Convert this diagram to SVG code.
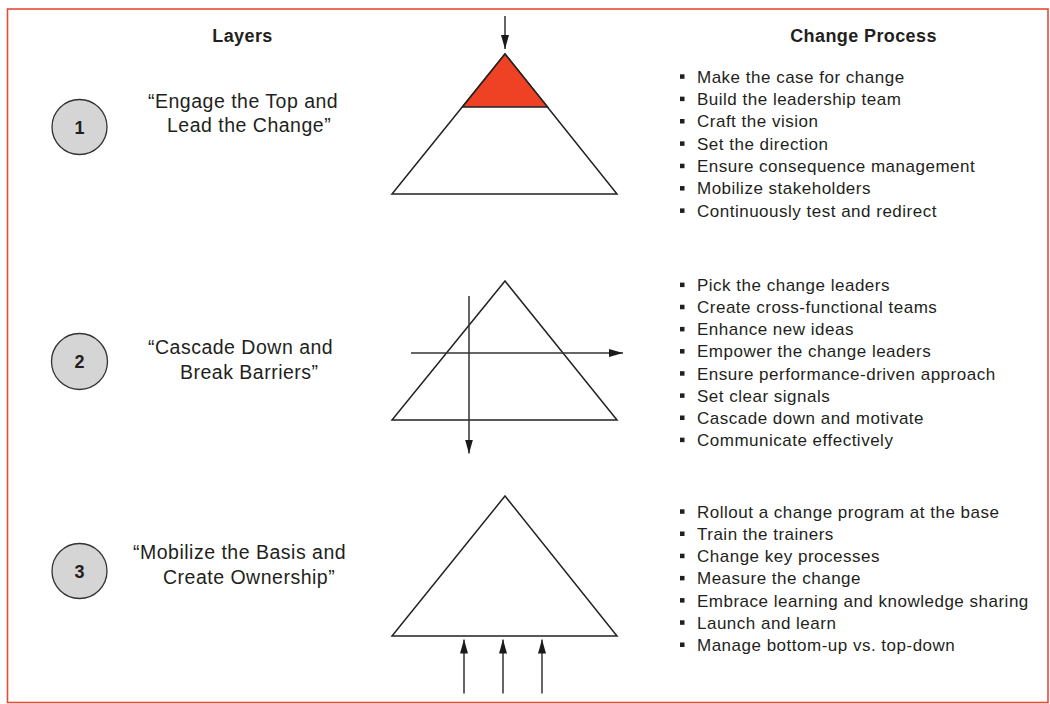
<svg xmlns="http://www.w3.org/2000/svg" width="1050" height="704" viewBox="0 0 1050 704">
<defs>
<marker id="ah" viewBox="0 0 14 8" refX="14" refY="4" markerWidth="14" markerHeight="8" markerUnits="userSpaceOnUse" orient="auto">
<path d="M0,0 L14,4 L0,8 Z" fill="#1a1a1a"/>
</marker>
<style>
.frame{fill:#ffffff;stroke:#ea4a35;stroke-width:1.6}
.head{font-family:"Liberation Sans",Arial,sans-serif;font-weight:bold;font-size:18px;fill:#231f20;text-anchor:middle;letter-spacing:0.4px}
.lbl{font-family:"Liberation Sans",Arial,sans-serif;font-size:19.5px;fill:#231f20;letter-spacing:0.5px}
.item{font-family:"Liberation Sans",Arial,sans-serif;font-size:17px;fill:#231f20;letter-spacing:0.5px}
.num{font-family:"Liberation Sans",Arial,sans-serif;font-weight:bold;font-size:18px;fill:#231f20;text-anchor:middle}
.circ{fill:#d5d5d5;stroke:#333;stroke-width:1.3}
.tri{fill:#ffffff;stroke:#222;stroke-width:1.5;stroke-linejoin:miter}
.bul{fill:#231f20}
.arr{stroke:#333;stroke-width:1.5;fill:none;marker-end:url(#ah)}
</style>
</defs>
<rect class="frame" x="7.5" y="9" width="1040.5" height="693.5"/>

<text class="head" x="242.5" y="42">Layers</text>
<text class="head" x="863.5" y="42">Change Process</text>

<g id="layer1">
<circle class="circ" cx="79.5" cy="127" r="27.5"/>
<text class="num" x="79.5" y="133.5">1</text>
<text class="lbl" x="148" y="107.5">“Engage the Top and</text>
<text class="lbl" x="167" y="132">Lead the Change”</text>
</g>

<g id="pyramid1">
<polygon class="tri" points="505,54 617,194 392,194"/>
<polygon points="505,54 547.6,107 462.4,107" fill="#ef4124" stroke="#222" stroke-width="1.5"/>
</g>

<g id="process1">
<g class="bul">
<rect x="680" y="74.3" width="4.5" height="4.5"/>
<rect x="680" y="96.65" width="4.5" height="4.5"/>
<rect x="680" y="119" width="4.5" height="4.5"/>
<rect x="680" y="141.35" width="4.5" height="4.5"/>
<rect x="680" y="163.7" width="4.5" height="4.5"/>
<rect x="680" y="186.05" width="4.5" height="4.5"/>
<rect x="680" y="208.4" width="4.5" height="4.5"/>
</g>
<text class="item" x="697" y="82.7">Make the case for change</text>
<text class="item" x="697" y="105.05">Build the leadership team</text>
<text class="item" x="697" y="127.4">Craft the vision</text>
<text class="item" x="697" y="149.75">Set the direction</text>
<text class="item" x="697" y="172.1">Ensure consequence management</text>
<text class="item" x="697" y="194.45">Mobilize stakeholders</text>
<text class="item" x="697" y="216.8">Continuously test and redirect</text>
</g>

<g id="layer2">
<circle class="circ" cx="79.5" cy="361.5" r="28"/>
<text class="num" x="79.5" y="368">2</text>
<text class="lbl" x="148" y="353.5">“Cascade Down and</text>
<text class="lbl" x="180" y="378.5">Break Barriers”</text>
</g>

<g id="pyramid2">
<polygon class="tri" points="505,281 617,420 392,420"/>
</g>

<g id="process2">
<g class="bul">
<rect x="680" y="282.6" width="4.5" height="4.5"/>
<rect x="680" y="304.75" width="4.5" height="4.5"/>
<rect x="680" y="326.9" width="4.5" height="4.5"/>
<rect x="680" y="349.05" width="4.5" height="4.5"/>
<rect x="680" y="371.2" width="4.5" height="4.5"/>
<rect x="680" y="393.35" width="4.5" height="4.5"/>
<rect x="680" y="415.5" width="4.5" height="4.5"/>
<rect x="680" y="437.65" width="4.5" height="4.5"/>
</g>
<text class="item" x="697" y="291">Pick the change leaders</text>
<text class="item" x="697" y="313.15">Create cross-functional teams</text>
<text class="item" x="697" y="335.3">Enhance new ideas</text>
<text class="item" x="697" y="357.45">Empower the change leaders</text>
<text class="item" x="697" y="379.6">Ensure performance-driven approach</text>
<text class="item" x="697" y="401.75">Set clear signals</text>
<text class="item" x="697" y="423.9">Cascade down and motivate</text>
<text class="item" x="697" y="446.05">Communicate effectively</text>
</g>

<g id="layer3">
<circle class="circ" cx="79.5" cy="571" r="27.5"/>
<text class="num" x="79.5" y="577.5">3</text>
<text class="lbl" x="133" y="558.5">“Mobilize the Basis and</text>
<text class="lbl" x="163" y="583.5">Create Ownership”</text>
</g>

<g id="pyramid3">
<polygon class="tri" points="505,496 617,636 392,636"/>
</g>

<g id="process3">
<g class="bul">
<rect x="680" y="509.3" width="4.5" height="4.5"/>
<rect x="680" y="531.5" width="4.5" height="4.5"/>
<rect x="680" y="553.7" width="4.5" height="4.5"/>
<rect x="680" y="575.9" width="4.5" height="4.5"/>
<rect x="680" y="598.1" width="4.5" height="4.5"/>
<rect x="680" y="620.3" width="4.5" height="4.5"/>
<rect x="680" y="642.5" width="4.5" height="4.5"/>
</g>
<text class="item" x="697" y="517.7">Rollout a change program at the base</text>
<text class="item" x="697" y="539.9">Train the trainers</text>
<text class="item" x="697" y="562.1">Change key processes</text>
<text class="item" x="697" y="584.3">Measure the change</text>
<text class="item" x="697" y="606.5">Embrace learning and knowledge sharing</text>
<text class="item" x="697" y="628.7">Launch and learn</text>
<text class="item" x="697" y="650.9">Manage bottom-up vs. top-down</text>
</g>

<g id="connectors">
<line class="arr" x1="505" y1="16" x2="505" y2="49"/>
<line class="arr" x1="411" y1="353" x2="623" y2="353"/>
<line class="arr" x1="469" y1="296" x2="469" y2="453.5"/>
<line class="arr" x1="464" y1="693.5" x2="464" y2="639.5"/>
<line class="arr" x1="503" y1="693.5" x2="503" y2="639.5"/>
<line class="arr" x1="542" y1="693.5" x2="542" y2="639.5"/>
</g>
</svg>
